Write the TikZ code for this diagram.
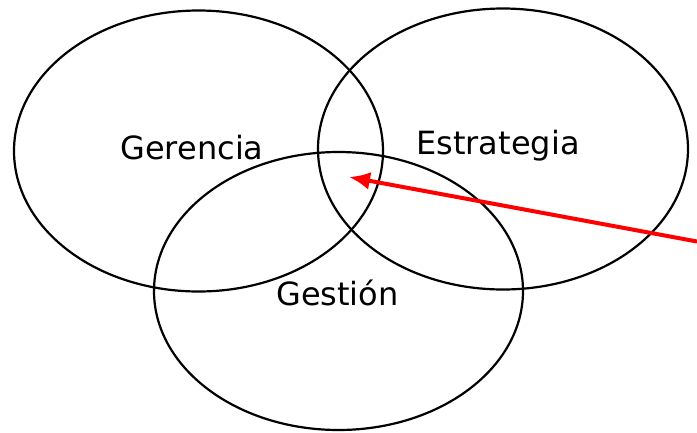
\documentclass[tikz,border=0pt]{standalone}
\usepackage{fontspec}
\setmainfont{DejaVu Sans}
\usetikzlibrary{arrows.meta, shapes.geometric}

\begin{document}
\begin{tikzpicture}[x=1pt, y=-1pt,
  area/.style={draw, ellipse, line width=2.2pt, inner sep=0pt, minimum width=369pt, minimum height=281pt},
  label/.style={anchor=base, font=\fontsize{32}{38}\selectfont, inner sep=0pt},
  pointer/.style={draw=red, line width=4pt, -{Latex[length=21pt, width=18pt]}}]
\useasboundingbox (0,0) rectangle (697,432);
% areas
\node[area] (gerencia) at (198.5,151) {};
\node[area, minimum width=370pt] (estrategia) at (503,149) {};
\node[area, minimum height=278pt] (gestion) at (338.5,291) {};
% labels
\node[label] (lgerencia) at (192,159) {Gerencia};
\node[label] (lestrategia) at (498,154) {Estrategia};
\node[label] (lgestion) at (337.5,305) {Gestión};
% pointer to the common area
\coordinate (start) at (697,241.5);
\coordinate (centro) at (349,177);
\draw[pointer] (start) -- (centro);
\end{tikzpicture}
\end{document}
